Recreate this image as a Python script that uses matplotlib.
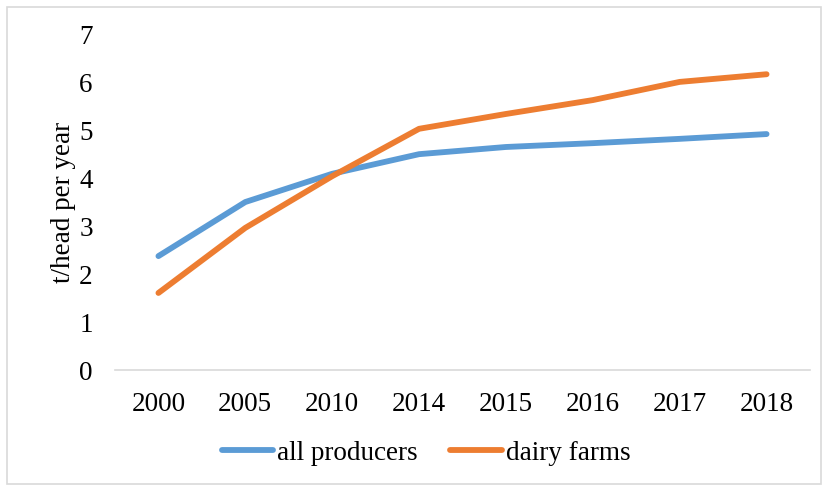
import matplotlib.pyplot as plt
from matplotlib.patches import Rectangle

years = ["2000", "2005", "2010", "2014", "2015", "2016", "2017", "2018"]
all_producers = [2.38, 3.51, 4.10, 4.51, 4.66, 4.74, 4.83, 4.93]
dairy_farms = [1.61, 2.97, 4.05, 5.04, 5.35, 5.64, 6.02, 6.18]

plt.rcParams['font.family'] = ['Liberation Serif', 'DejaVu Serif']
fs = 19.5

fig = plt.figure(figsize=(8.28, 4.91), dpi=100)
ax = fig.add_axes([115/828, 121/491, 695/828, 335/491])

x = range(len(years))
ax.plot(x, all_producers, color="#5B9BD5", lw=4.2, solid_capstyle="round", label="all producers")
ax.plot(x, dairy_farms, color="#ED7D31", lw=4.2, solid_capstyle="round", label="dairy farms")

ax.set_xlim(-0.5, len(years) - 0.5)
ax.set_ylim(0, 7)
ax.set_yticks(range(0, 8))
ax.set_xticks(list(x))
ax.set_xticklabels(years)
ax.tick_params(axis="both", length=0, labelsize=fs, colors="black")
ax.tick_params(axis="x", pad=16)
ax.tick_params(axis="y", pad=16)

for s in ["top", "right", "left"]:
    ax.spines[s].set_visible(False)
ax.spines["bottom"].set_color("#D9D9D9")
ax.spines["bottom"].set_linewidth(1.2)

ax.set_ylabel("t/head per year", fontsize=fs, labelpad=2)

ax.legend(loc="center", bbox_to_anchor=(426/828, (491 - 453)/491), bbox_transform=fig.transFigure,
          ncol=2, frameon=False, fontsize=fs, handlelength=1.9, columnspacing=1.2,
          handletextpad=0.15)

# chart frame
fig.patches.append(Rectangle((7/828, 7/491), 814/828, 477/491, transform=fig.transFigure,
                             fill=False, edgecolor="#D9D9D9", lw=1.2))

fig.savefig("out.png", dpi=100)
